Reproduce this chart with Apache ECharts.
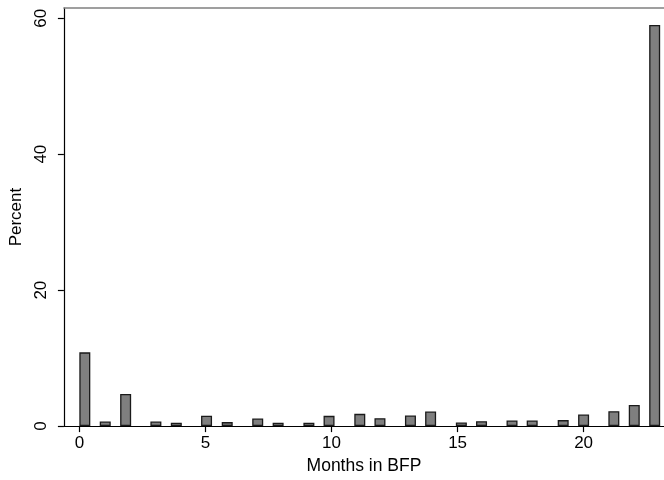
<!DOCTYPE html>
<html><head><meta charset="utf-8">
<script src="https://cdn.jsdelivr.net/npm/echarts@6/dist/echarts.min.js"></script>
<style>html,body{margin:0;padding:0;background:#fff}#c{width:664px;height:480px}</style>
</head><body><div id="c"></div>
<script>
// Bar positions (months, as drawn) and heights (percent)
const barX = [0.21, 1.02, 1.83, 3.03, 3.84, 5.04, 5.86, 7.07, 7.88, 9.1, 9.9, 11.12,
              11.92, 13.13, 13.93, 15.15, 15.95, 17.16, 17.96, 19.19, 20.0, 21.2, 22.01, 22.82];
const percent = [10.85, 0.67, 4.73, 0.67, 0.49, 1.53, 0.59, 1.11, 0.49, 0.49, 1.51, 1.8,
                 1.17, 1.55, 2.14, 0.53, 0.73, 0.82, 0.82, 0.88, 1.7, 2.2, 3.12, 59.0];
const xTicks = [0, 5, 10, 15, 20];
const yTicks = [0, 20, 40, 60];
const xTitle = 'Months in BFP';
const yTitle = 'Percent';

const font = 'Liberation Sans, Arial, Helvetica, sans-serif';
const chart = echarts.init(document.getElementById('c'), null, {renderer: 'canvas'});
chart.setOption({
  animation: false,
  backgroundColor: '#fff',
  grid: {left: 61, right: 0, top: 8, bottom: 52, containLabel: false},
  xAxis: [{
    type: 'value', min: -0.62, max: 23.19, position: 'bottom',
    name: xTitle, nameLocation: 'middle', nameGap: 27,
    nameTextStyle: {fontFamily: font, fontSize: 17.5, color: '#000'},
    axisLine: {show: true, onZero: false, lineStyle: {color: '#000', width: 1.2}},
    axisTick: {show: true, length: 6, customValues: xTicks, lineStyle: {color: '#000', width: 1.2}},
    axisLabel: {customValues: xTicks, margin: 9, fontFamily: font, fontSize: 17, color: '#000'},
    splitLine: {show: false}
  }, {
    type: 'value', min: -0.62, max: 23.19, position: 'top',
    axisLine: {show: true, onZero: false, lineStyle: {color: '#808080', width: 1.5}},
    axisTick: {show: false}, axisLabel: {show: false}, splitLine: {show: false}
  }],
  yAxis: {
    type: 'value', min: 0, max: 61.5, position: 'left',
    name: yTitle, nameLocation: 'middle', nameGap: 36, nameRotate: 90,
    nameTextStyle: {fontFamily: font, fontSize: 17, color: '#000'},
    axisLine: {show: true, onZero: false, lineStyle: {color: '#000', width: 1.2}},
    axisTick: {show: true, length: 6, customValues: yTicks, lineStyle: {color: '#000', width: 1.2}},
    axisLabel: {customValues: yTicks, rotate: 90, margin: 14, fontFamily: font, fontSize: 17, color: '#000'},
    splitLine: {show: false}
  },
  series: [{
    type: 'bar', xAxisIndex: 0,
    barWidth: 11,
    data: barX.map((x, i) => [x, percent[i]]),
    itemStyle: {color: '#7f7f7f', borderColor: '#1a1a1a', borderWidth: 1.3}
  }]
});
</script></body></html>
